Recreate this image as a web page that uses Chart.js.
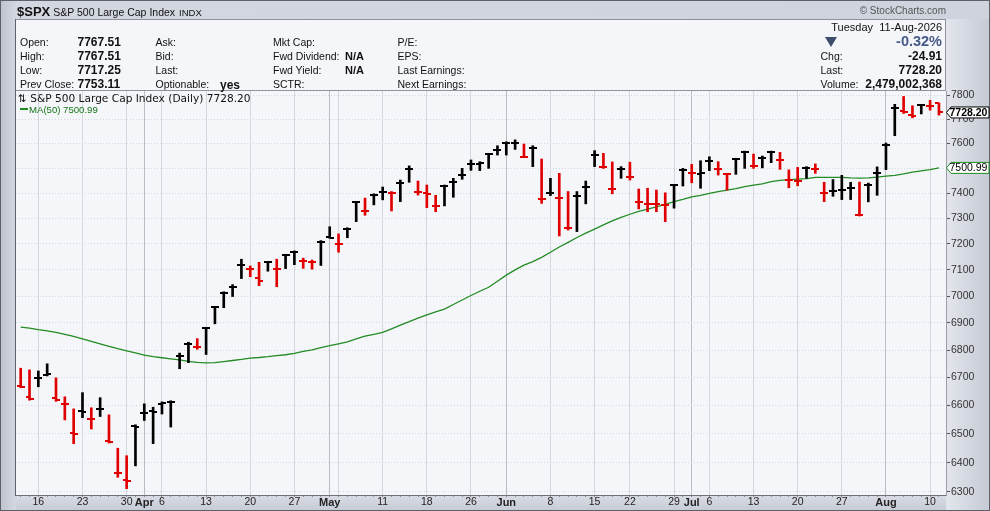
<!DOCTYPE html>
<html>
<head>
<meta charset="utf-8">
<script src="https://cdn.jsdelivr.net/npm/chart.js@4.4.1/dist/chart.umd.min.js"></script>
<style>
  html, body { margin: 0; padding: 0; }
  body { width: 990px; height: 511px; overflow: hidden; position: relative;
         font-family: "Liberation Sans", Arial, sans-serif; color: #111; background: #cdd1dc; }
  #backdrop { position: absolute; left: 0; top: 0; width: 990px; height: 511px; box-sizing: border-box;
              border: 1px solid #5c616b;
              background: linear-gradient(to right, #bfc4cf 0px, #d3d7e0 15px, #cfd3dd 100%); }
  #rightStrip { position: absolute; left: 946px; top: 19px; width: 43px; height: 491px;
                background: linear-gradient(to right, #e3e6ec, #c6cad5); }
  #bottomStrip { position: absolute; left: 16px; top: 495px; width: 930px; height: 15px;
                 background: linear-gradient(#d9dce4, #c8ccd7); }
  canvas { position: absolute; left: 0; top: 0; }
  #title { position: absolute; left: 17px; top: 3px; white-space: nowrap; line-height: 16px; }
  #title b { font-size: 13px; }
  #title .name { font-size: 10.5px; margin-left: 3px; }
  #title .exch { font-size: 9.5px; margin-left: 4px; }
  #copy { position: absolute; right: 44px; top: 5px; font-size: 10px; color: #555; }
  #info { position: absolute; left: 16px; top: 19px; width: 930px; height: 72px; box-sizing: border-box;
          background: #f5f6fa; border-top: 1px solid #8d929d; border-bottom: 1px solid #8d929d;
          border-right: 1px solid #8d929d; }
  .t { position: absolute; font-size: 10.5px; line-height: 14px; white-space: nowrap; }
  .v { position: absolute; font-size: 12px; font-weight: bold; line-height: 14px; white-space: nowrap; }
  .r { text-align: right; right: 48px; }
  #tri { position: absolute; left: 825px; top: 37px; width: 0; height: 0;
         border-left: 6px solid transparent; border-right: 6px solid transparent; border-top: 10px solid #3e4d6c; }
  #leftEdge { position: absolute; left: 15px; top: 19px; width: 1px; height: 477px; background: #5d626c; }
  #leg1 { position: absolute; left: 18px; top: 92px; font-family: "DejaVu Sans", sans-serif; font-size: 10.6px;
          line-height: 13px; white-space: nowrap; color: #111; }
  #leg2 { position: absolute; left: 20px; top: 104px; font-size: 9.6px; line-height: 11px; white-space: nowrap; color: #157515; }
  #leg2 i { display: inline-block; width: 8px; height: 2px; background: #1f8a1f; vertical-align: 3px; margin-right: 1px; }
</style>
</head>
<body>
<div id="backdrop"></div>
<div id="rightStrip"></div>
<div id="bottomStrip"></div>
<canvas id="chart" width="990" height="511"></canvas>

<div id="title"><b>$SPX</b><span class="name">S&amp;P 500 Large Cap Index</span><span class="exch">INDX</span></div>
<div id="copy">&copy; StockCharts.com</div>

<div id="info"></div>
<div class="t" style="left:20px;top:34.5px">Open:</div>
<div class="t" style="left:20px;top:48.5px">High:</div>
<div class="t" style="left:20px;top:63px">Low:</div>
<div class="t" style="left:20px;top:77px">Prev Close:</div>
<div class="v" style="left:77.5px;top:34.5px">7767.51</div>
<div class="v" style="left:77.5px;top:48.5px">7767.51</div>
<div class="v" style="left:77.5px;top:63px">7717.25</div>
<div class="v" style="left:77.5px;top:77px">7753.11</div>
<div class="t" style="left:155.5px;top:34.5px">Ask:</div>
<div class="t" style="left:155.5px;top:48.5px">Bid:</div>
<div class="t" style="left:155.5px;top:63px">Last:</div>
<div class="t" style="left:155.5px;top:77px">Optionable:</div>
<div class="v" style="left:220px;top:78px">yes</div>
<div class="t" style="left:273px;top:34.5px">Mkt Cap:</div>
<div class="t" style="left:273px;top:48.5px">Fwd Dividend:</div>
<div class="t" style="left:273px;top:63px">Fwd Yield:</div>
<div class="t" style="left:273px;top:77px">SCTR:</div>
<div class="v" style="left:345px;top:48.5px;font-size:11px">N/A</div>
<div class="v" style="left:345px;top:63px;font-size:11px">N/A</div>
<div class="t" style="left:397.5px;top:34.5px">P/E:</div>
<div class="t" style="left:397.5px;top:48.5px">EPS:</div>
<div class="t" style="left:397.5px;top:63px">Last Earnings:</div>
<div class="t" style="left:397.5px;top:77px">Next Earnings:</div>
<div class="t r" style="top:19.5px;font-size:11px">Tuesday&nbsp;&nbsp;11-Aug-2026</div>
<div id="tri"></div>
<div class="v r" style="top:34px;font-size:14.5px;color:#475a86">-0.32%</div>
<div class="t" style="left:820.5px;top:48.5px">Chg:</div>
<div class="t" style="left:820.5px;top:63px">Last:</div>
<div class="t" style="left:820.5px;top:77px">Volume:</div>
<div class="v r" style="top:48.5px">-24.91</div>
<div class="v r" style="top:63px">7728.20</div>
<div class="v r" style="top:77px">2,479,002,368</div>

<div id="leftEdge"></div>
<div id="leg1">&#8645; S&amp;P 500 Large Cap Index (Daily) 7728.20</div>
<div id="leg2"><i></i>MA(50) 7500.99</div>

<script>
// trading days shown on the chart
const dates = [
  '2026-03-12','2026-03-13','2026-03-16','2026-03-17','2026-03-18','2026-03-19','2026-03-20','2026-03-23','2026-03-24','2026-03-25',
  '2026-03-26','2026-03-27','2026-03-30','2026-03-31','2026-04-01','2026-04-02','2026-04-06','2026-04-07','2026-04-08','2026-04-09',
  '2026-04-10','2026-04-13','2026-04-14','2026-04-15','2026-04-16','2026-04-17','2026-04-20','2026-04-21','2026-04-22','2026-04-23',
  '2026-04-24','2026-04-27','2026-04-28','2026-04-29','2026-04-30','2026-05-01','2026-05-04','2026-05-05','2026-05-06','2026-05-07',
  '2026-05-08','2026-05-11','2026-05-12','2026-05-13','2026-05-14','2026-05-15','2026-05-18','2026-05-19','2026-05-20','2026-05-21',
  '2026-05-22','2026-05-26','2026-05-27','2026-05-28','2026-05-29','2026-06-01','2026-06-02','2026-06-03','2026-06-04','2026-06-05',
  '2026-06-08','2026-06-09','2026-06-10','2026-06-11','2026-06-12','2026-06-15','2026-06-16','2026-06-17','2026-06-18','2026-06-22',
  '2026-06-23','2026-06-24','2026-06-25','2026-06-26','2026-06-29','2026-06-30','2026-07-01','2026-07-02','2026-07-06','2026-07-07',
  '2026-07-08','2026-07-09','2026-07-10','2026-07-13','2026-07-14','2026-07-15','2026-07-16','2026-07-17','2026-07-20','2026-07-21',
  '2026-07-22','2026-07-23','2026-07-24','2026-07-27','2026-07-28','2026-07-29','2026-07-30','2026-07-31','2026-08-03','2026-08-04',
  '2026-08-05','2026-08-06','2026-08-07','2026-08-10','2026-08-11'
];

const opens = [
  6670,6629,6698,6711,6626,6607,6503,6579,6554,6588,
  6475,6366,6341,6526,6574,6579,6607,6614,6779,6821,
  6813,6881,6959,7014,7034,7120,7105,7069,7129,7105,
  7157,7168,7136,7130,7206,7225,7199,7257,7364,7330,
  7392,7406,7400,7441,7495,7403,7400,7349,7428,7445,
  7471,7516,7515,7557,7574,7601,7603,7546,7580,7377,
  7401,7381,7262,7390,7425,7553,7506,7415,7495,7466,
  7363,7356,7357,7353,7433,7492,7479,7478,7530,7495,
  7477,7537,7566,7509,7540,7564,7533,7452,7450,7499,
  7495,7402,7407,7413,7420,7312,7433,7480,7595,7745,
  7735,7716,7760,7755,7767.51
];
const highs = [
  6734,6728,6724,6750,6699,6631,6588,6646,6592,6628,
  6567,6450,6424,6532,6606,6594,6613,6617,6789,6829,
  6842,6884,6962,7017,7044,7141,7115,7129,7132,7141,
  7160,7173,7145,7138,7213,7267,7239,7263,7366,7380,
  7397,7424,7406,7452,7509,7448,7432,7391,7432,7459,
  7499,7533,7526,7560,7591,7607,7615,7598,7591,7537,
  7459,7479,7406,7406,7448,7571,7560,7525,7506,7524,
  7416,7419,7412,7401,7435,7499,7515,7530,7546,7526,
  7479,7540,7569,7557,7549,7569,7564,7493,7503,7506,
  7517,7443,7454,7471,7443,7444,7440,7505,7602,7762,
  7795,7756,7762,7779,7767.51
];
const lows = [
  6664,6619,6667,6706,6615,6549,6466,6557,6517,6561,
  6468,6350,6311,6389,6547,6466,6570,6524,6732,6754,
  6803,6784,6897,6957,6999,7067,7074,7040,7095,7036,
  7105,7120,7106,7103,7117,7222,7168,7224,7287,7312,
  7353,7373,7329,7366,7443,7392,7342,7326,7349,7383,
  7455,7491,7490,7499,7553,7553,7576,7544,7506,7359,
  7390,7231,7254,7248,7357,7506,7499,7397,7459,7452,
  7337,7326,7326,7287,7340,7428,7441,7419,7490,7472,
  7412,7475,7499,7499,7501,7522,7495,7421,7429,7459,
  7479,7366,7387,7374,7374,7309,7365,7391,7494,7632,
  7724,7706,7722,7738,7717.25
];
const closes = [
  6667,6624,6697,6713,6620,6604,6500,6578,6552,6589,
  6473,6364,6338,6525,6575,6578,6608,6614,6780,6821,
  6812,6881,6959,7014,7034,7120,7105,7058,7129,7105,
  7157,7168,7136,7130,7206,7224,7199,7257,7363,7330,
  7392,7406,7400,7441,7495,7403,7398,7349,7428,7445,
  7471,7516,7519,7557,7574,7601,7604,7546,7580,7377,
  7401,7381,7262,7390,7425,7553,7506,7415,7495,7466,
  7363,7356,7355,7351,7433,7492,7479,7481,7530,7495,
  7477,7537,7566,7509,7540,7564,7533,7452,7450,7499,
  7495,7402,7407,7413,7420,7312,7433,7480,7595,7745,
  7731,7714,7758,7753.11,7728.20
];
// 50-day moving average as plotted
const ma50 = [
  6885,6881,6875,6871,6865,6858,6850,6841,6832,6823,
  6814,6805,6797,6790,6782,6776,6772,6768,6764,6759,
  6755,6753,6754,6758,6762,6766,6771,6773,6776,6780,
  6783,6788,6795,6801,6809,6816,6823,6830,6841,6851,
  6858,6865,6878,6892,6905,6918,6930,6941,6952,6969,
  6986,7003,7019,7034,7057,7080,7100,7118,7132,7148,
  7168,7188,7206,7225,7242,7258,7274,7290,7304,7316,
  7327,7336,7345,7355,7366,7375,7385,7391,7399,7406,
  7412,7418,7426,7432,7437,7446,7451,7454,7456,7458,
  7463,7463,7463,7463,7461,7460,7461,7464,7468,7471,
  7477,7484,7489,7494,7500.99
];
const yTicks = [6300,6400,6500,6600,6700,6800,6900,7000,7100,7200,7300,7400,7500,7600,7700,7800];
const monthNames = ['Jan','Feb','Mar','Apr','May','Jun','Jul','Aug','Sep','Oct','Nov','Dec'];

const RED = '#e00000', BLACK = '#000000';
const last = dates.length - 1;

// down day = close below previous close
const isDown = closes.map((c, i) => i === 0 ? c < opens[0] : c < closes[i - 1]);
const barColors = isDown.map(d => d ? RED : BLACK);

// x axis labels: month name on first day of month, day number on first day of week
const xLabels = {}, gridKind = {};
let lastMonthIdx = -10;
dates.forEach((s, i) => {
  if (i === 0) return;
  const d = new Date(s + 'T12:00:00'), p = new Date(dates[i - 1] + 'T12:00:00');
  if (d.getMonth() !== p.getMonth()) {
    xLabels[i] = monthNames[d.getMonth()];
    gridKind[i] = 'month';
    lastMonthIdx = i;
  } else if (d.getDay() < p.getDay()) {
    gridKind[i] = 'week';
    if (i - lastMonthIdx >= 2) xLabels[i] = String(d.getDate());
  }
});
const kindOf = c => (c && c.tick) ? gridKind[c.tick.value] : undefined;

// little open / close tick images
function tickImage(side, color) {
  const c = document.createElement('canvas');
  c.width = 8; c.height = 2;
  const g = c.getContext('2d');
  g.fillStyle = color;
  if (side === 'open') g.fillRect(0, 0, 4, 2); else g.fillRect(4, 0, 4, 2);
  return c;
}
const openImg = { r: tickImage('open', RED), k: tickImage('open', BLACK) };
const closeImg = { r: tickImage('close', RED), k: tickImage('close', BLACK) };

const plotBg = {
  id: 'plotBg',
  beforeDraw(chart) {
    const { ctx, chartArea: a } = chart;
    ctx.save();
    ctx.fillStyle = '#f5f6fa';
    ctx.fillRect(a.left, a.top, a.right - a.left, a.bottom - a.top);
    ctx.restore();
  }
};

function drawTag(ctx, x0, yc, text, stroke, bold) {
  const h = 5.5, x1 = 989;
  ctx.save();
  ctx.beginPath();
  ctx.moveTo(x0 + 0.5, yc);
  ctx.lineTo(x0 + 5, yc - h);
  ctx.lineTo(x1, yc - h);
  ctx.lineTo(x1, yc + h);
  ctx.lineTo(x0 + 5, yc + h);
  ctx.closePath();
  ctx.fillStyle = '#ffffff';
  ctx.fill();
  ctx.strokeStyle = stroke;
  ctx.lineWidth = 1;
  ctx.stroke();
  ctx.fillStyle = '#000';
  ctx.font = (bold ? 'bold ' : '') + '10.5px "Liberation Sans"';
  ctx.textBaseline = 'middle';
  ctx.fillText(text, x0 + 3.5, yc + 0.5);
  ctx.restore();
}

const priceTags = {
  id: 'priceTags',
  afterDraw(chart) {
    const { ctx, chartArea: a, scales: { y } } = chart;
    drawTag(ctx, a.right, y.getPixelForValue(ma50[last]), ma50[last].toFixed(2), '#1f8a1f', false);
    drawTag(ctx, a.right, y.getPixelForValue(closes[last]), closes[last].toFixed(2), '#000', true);
  }
};

new Chart(document.getElementById('chart'), {
  type: 'bar',
  data: {
    datasets: [
      {
        type: 'line',
        label: 'MA(50)',
        data: ma50.map((v, i) => ({ x: i, y: v })),
        borderColor: '#238b23',
        borderWidth: 1.3,
        pointRadius: 0,
        tension: 0,
        order: 3
      },
      {
        type: 'bar',
        label: 'High-Low',
        data: dates.map((d, i) => ({ x: i, y: [lows[i], highs[i]] })),
        backgroundColor: barColors,
        borderWidth: 0,
        borderSkipped: false,
        barThickness: 2,
        grouped: false,
        order: 2
      },
      {
        type: 'line',
        label: 'Open',
        data: opens.map((v, i) => ({ x: i, y: v })),
        showLine: false,
        pointRadius: 3,
        pointHoverRadius: 3,
        pointStyle: ctx => isDown[ctx.dataIndex] ? openImg.r : openImg.k,
        order: 1
      },
      {
        type: 'line',
        label: 'Close',
        data: closes.map((v, i) => ({ x: i, y: v })),
        showLine: false,
        pointRadius: 3,
        pointHoverRadius: 3,
        pointStyle: ctx => isDown[ctx.dataIndex] ? closeImg.r : closeImg.k,
        order: 1
      }
    ]
  },
  options: {
    responsive: false,
    animation: false,
    devicePixelRatio: 1,
    layout: { padding: { left: 16, top: 91, right: 0, bottom: 0 } },
    plugins: { legend: { display: false }, tooltip: { enabled: false } },
    scales: {
      x: {
        type: 'linear',
        min: -0.53,
        max: 104.8,
        offset: false,
        afterBuildTicks: s => { s.ticks = dates.map((d, i) => ({ value: i })); },
        afterFit: s => { s.height = 16; },
        grid: {
          offset: false,
          color: c => kindOf(c) === 'month' ? '#babdc6'
                    : kindOf(c) === 'week' ? '#d5d7de' : 'rgba(0,0,0,0)',
          tickColor: '#8a8f99',
          tickLength: 2
        },
        border: { color: '#6d717b', width: 1 },
        ticks: {
          autoSkip: false,
          maxRotation: 0,
          padding: 0,
          color: '#222',
          callback: v => xLabels[v] || '',
          font: c => ({
            family: 'Liberation Sans',
            size: kindOf(c) === 'month' ? 11 : 10.5,
            weight: kindOf(c) === 'month' ? 'bold' : 'normal',
            lineHeight: 1
          })
        }
      },
      y: {
        type: 'logarithmic',
        position: 'right',
        min: 6289.6,
        max: 7818,
        afterBuildTicks: s => { s.ticks = yTicks.map(v => ({ value: v })); },
        afterFit: s => { s.width = 44; },
        grid: { color: '#d5d7de', tickColor: '#555', tickLength: 4 },
        border: { color: '#9a9ea8', dash: [1, 2] },
        ticks: {
          callback: v => String(v),
          color: '#333',
          padding: 1,
          font: { family: 'Liberation Sans', size: 10.5 }
        }
      }
    }
  },
  plugins: [plotBg, priceTags]
});
</script>
</body>
</html>
